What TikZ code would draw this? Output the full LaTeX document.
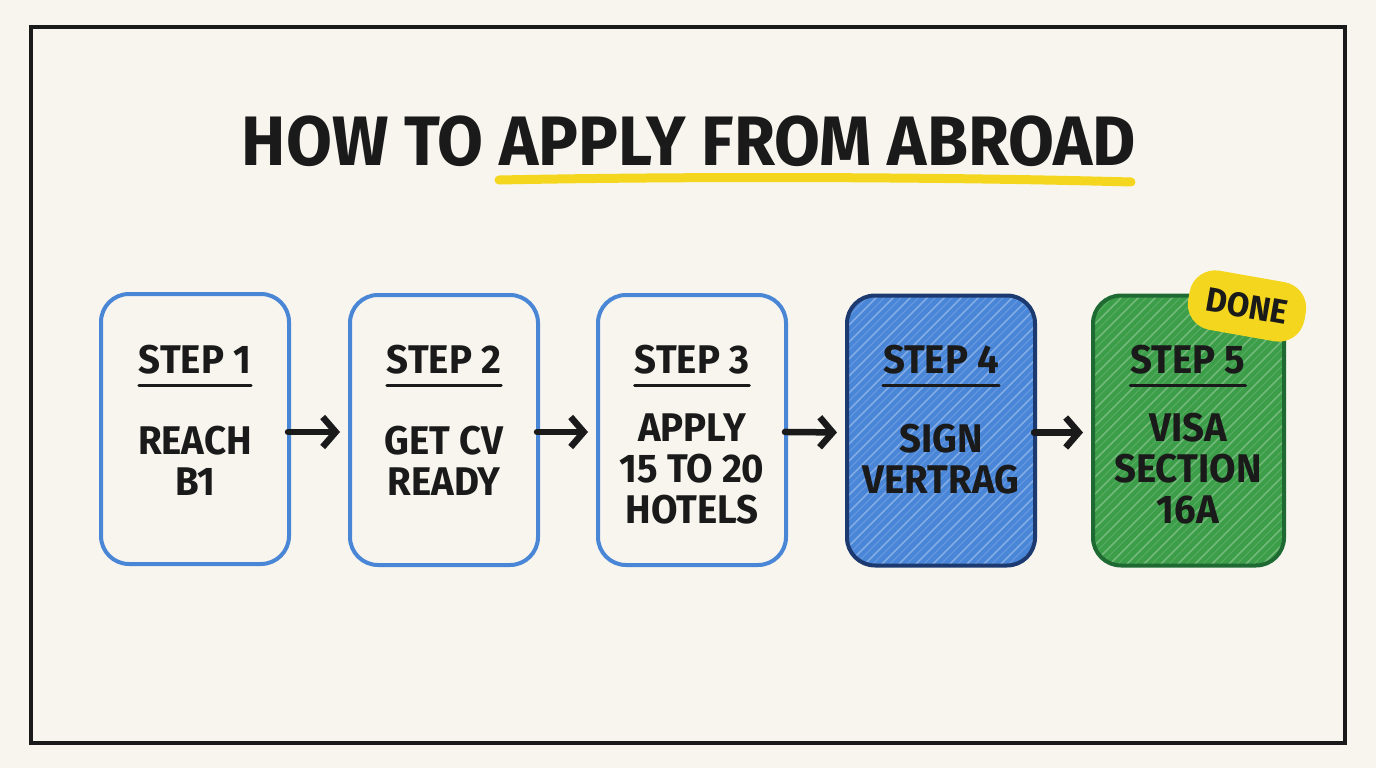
\documentclass[tikz,border=0pt]{standalone}
\usepackage{fontspec}
\usetikzlibrary{arrows.meta,calc}
\newfontfamily\hand[FakeStretch=0.96]{Fira Sans}
\newfontfamily\handtitle[FakeStretch=0.95]{Fira Sans}
\definecolor{paper}{HTML}{F8F5EF}
\definecolor{ink}{HTML}{1A1A1A}
\definecolor{bluestroke}{HTML}{4A86D6}
\definecolor{bluefill}{HTML}{4A86D8}
\definecolor{navy}{HTML}{1C3A70}
\definecolor{greenfill}{HTML}{3C9E48}
\definecolor{greenstroke}{HTML}{1F6A33}
\definecolor{marker}{HTML}{F5D61E}
\tikzset{
  stepbox/.style={draw=bluestroke, line width=4pt, rounded corners=28pt, minimum width=188pt, minimum height=270pt, inner sep=0pt},
  steplabel/.style={font=\hand\bfseries\fontsize{40}{44}\selectfont, text=ink, inner sep=0pt, anchor=base},
  body/.style={font=\hand\bfseries\fontsize{40}{41}\selectfont, text=ink, align=center, inner sep=0pt},
  ul/.style={draw=ink, line width=3pt, line cap=round},
  arr/.style={draw=ink, line width=6.5pt, line cap=round, -{Straight Barb[length=13pt, width=30pt, line width=6.5pt]}, shorten >=8pt, shorten <=-3pt},
}
\begin{document}
\begin{tikzpicture}[x=1pt, y=-1pt]
\fill[paper] (0,0) rectangle (1376,768);
\useasboundingbox (0,0) rectangle (1376,768);
\draw[ink, line width=3.5pt] (31,27) rectangle (1345,743);

% title
\draw[marker, line width=9pt, line cap=round] (499,180) .. controls (700,176) and (950,177) .. (1131,182);
\node[font=\handtitle\bfseries\fontsize{70}{72}\selectfont, text=ink, inner sep=0pt] (title) at (689,141) {HOW TO APPLY FROM ABROAD};

% boxes
\node[stepbox] (b1) at (195,429) {};
\node[stepbox] (b2) at (444,430) {};
\node[stepbox] (b3) at (692,430) {};

% filled box 4
\begin{scope}
  \clip[rounded corners=28pt] (848,296) rectangle (1034,565);
  \fill[bluefill] (840,290) rectangle (1040,570);
  \foreach \i in {0,...,30} {
    \draw[white, opacity=0.32, line width=1.6pt] (560+\i*17,580) -- (860+\i*17,280);
    \draw[white, opacity=0.18, line width=1pt] (568+\i*17,580) -- (868+\i*17,280);
  }
\end{scope}
\node[stepbox, draw=navy] (b4) at (941,430.5) {};

% filled box 5
\begin{scope}
  \clip[rounded corners=28pt] (1093,296) rectangle (1284,565);
  \fill[greenfill] (1085,290) rectangle (1290,570);
  \foreach \i in {0,...,30} {
    \draw[white, opacity=0.28, line width=1.6pt] (805+\i*17,580) -- (1105+\i*17,280);
    \draw[white, opacity=0.16, line width=1pt] (813+\i*17,580) -- (1113+\i*17,280);
  }
\end{scope}
\node[stepbox, draw=greenstroke, minimum width=191pt] (b5) at (1188.5,430.5) {};

% step labels
\foreach \n/\x in {1/195,2/444,3/692,4/941,5/1188} {
  \node[steplabel] (s\n) at (\x,373) {STEP \n};
  \draw[ul] ([yshift=-12pt]s\n.base west) -- ([yshift=-12pt]s\n.base east);
}

% bodies
\node[body] (t1) at (195,461) {REACH\\B1};
\node[body] (t2) at (444,461) {GET CV\\READY};
\node[body] (t3) at (692,469) {APPLY\\15 TO 20\\HOTELS};
\node[body] (t4) at (941,459) {SIGN\\VERTRAG};
\node[body] (t5) at (1188,469) {VISA\\SECTION\\16A};

% arrows
\draw[arr] ([yshift=-3pt]b1.east) -- ([yshift=-2pt]b2.west);
\draw[arr] ([yshift=-2pt]b2.east) -- ([yshift=-2pt]b3.west);
\draw[arr] ([yshift=-2pt]b3.east) -- ([yshift=-2pt]b4.west);
\draw[arr] ([yshift=-2pt]b4.east) -- ([yshift=-2pt]b5.west);

% done badge
\node[fill=marker, rounded corners=26pt, minimum width=118pt, minimum height=60pt, rotate=-10, font=\hand\bfseries\fontsize{34}{36}\selectfont, text=ink, inner sep=0pt] (done) at (1247,306) {DONE};
\end{tikzpicture}
\end{document}
